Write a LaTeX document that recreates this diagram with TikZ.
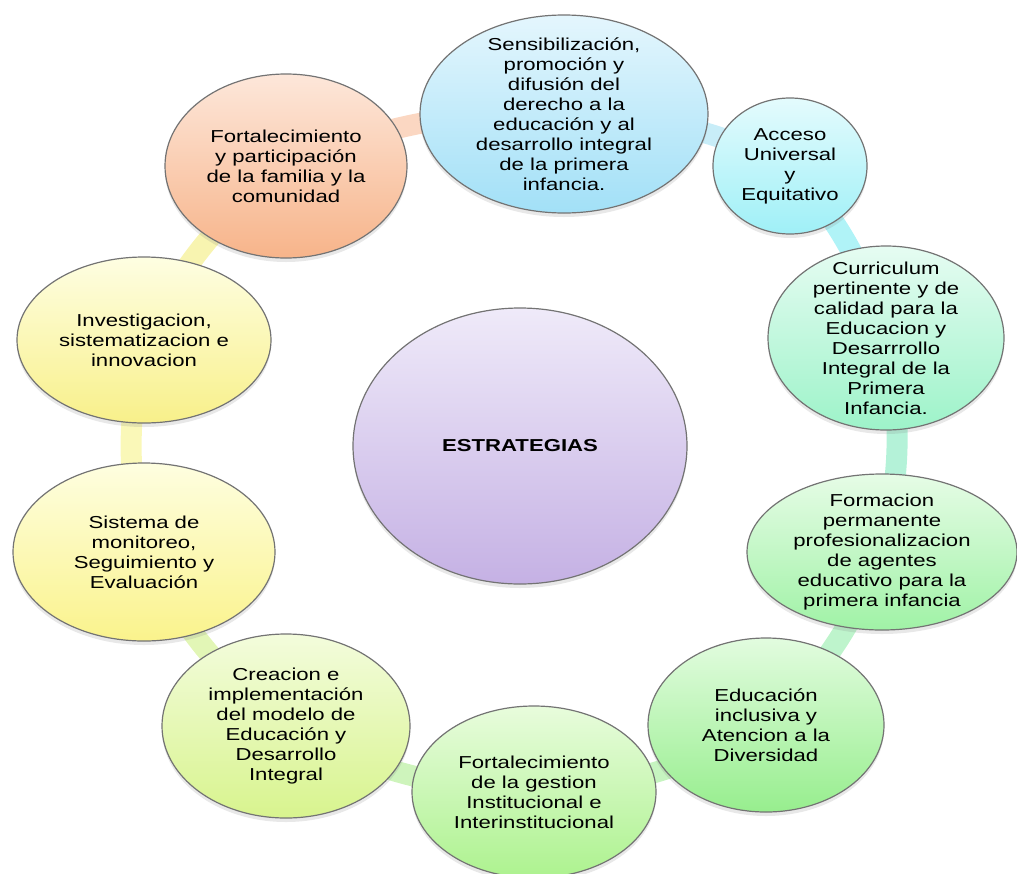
\documentclass[tikz,border=0pt]{standalone}
\usepackage{fontspec}
\setmainfont{Liberation Sans}[FakeStretch=1.28]
\usetikzlibrary{shapes.geometric,backgrounds,shadows}

% Colores de las burbujas (arriba / abajo)
\definecolor{famA}{HTML}{FDE7DA}
\definecolor{famB}{HTML}{F7B48A}
\definecolor{senA}{HTML}{E4F6FD}
\definecolor{senB}{HTML}{A2E0F7}
\definecolor{accA}{HTML}{E4FBFD}
\definecolor{accB}{HTML}{9FF0F7}
\definecolor{curA}{HTML}{E6FCF2}
\definecolor{curB}{HTML}{9DF3C9}
\definecolor{forA}{HTML}{E6FCE6}
\definecolor{forB}{HTML}{A0F2A6}
\definecolor{eduA}{HTML}{E2FCDF}
\definecolor{eduB}{HTML}{97EE8E}
\definecolor{gesA}{HTML}{E8FCDC}
\definecolor{gesB}{HTML}{ADF28F}
\definecolor{creA}{HTML}{F3FCDC}
\definecolor{creB}{HTML}{D8F48E}
\definecolor{sisA}{HTML}{FEFEE0}
\definecolor{sisB}{HTML}{FAF38C}
\definecolor{invA}{HTML}{FEFEE2}
\definecolor{invB}{HTML}{F8F08A}
\definecolor{cenA}{HTML}{EFEAF9}
\definecolor{cenB}{HTML}{C5B1E4}
% Colores de la banda
\definecolor{bFS}{HTML}{FBD7C2}
\definecolor{bSA}{HTML}{C8EDF8}
\definecolor{bAC}{HTML}{B0F3F7}
\definecolor{bCF}{HTML}{B4F2D8}
\definecolor{bFE}{HTML}{BEF4CC}
\definecolor{bEG}{HTML}{C6F4C0}
\definecolor{bGC}{HTML}{CEF4BC}
\definecolor{bCS}{HTML}{E2F6B6}
\definecolor{bSI}{HTML}{FAF8B8}
\definecolor{bIF}{HTML}{F8F4B0}

\tikzset{
  burbuja/.style={ellipse,draw=black!55,line width=0.6pt,inner sep=0pt,
    drop shadow={opacity=0.18,shadow xshift=0pt,shadow yshift=-2pt}},
  texto/.style={align=center,inner sep=0pt,font=\fontsize{8.65}{10}\selectfont},
  banda/.style={line width=10.5pt}
}

\begin{document}
\begin{tikzpicture}[x=0.5pt,y=-0.5pt]
  % Ventana
  \clip (0,0) rectangle (1017,873);

  % Burbujas
  \node[burbuja,top color=famA,bottom color=famB,minimum width=121pt,minimum height=92pt] (fam) at (286,166) {};
  \node[burbuja,top color=senA,bottom color=senB,minimum width=144pt,minimum height=99pt] (sens) at (564,114) {};
  \node[burbuja,top color=accA,bottom color=accB,minimum width=77pt,minimum height=68pt] (acceso) at (790,166) {};
  \node[burbuja,top color=curA,bottom color=curB,minimum width=118pt,minimum height=92pt] (curri) at (886,338) {};
  \node[burbuja,top color=forA,bottom color=forB,minimum width=135pt,minimum height=78pt] (formac) at (882,552) {};
  \node[burbuja,top color=eduA,bottom color=eduB,minimum width=118pt,minimum height=87pt] (educ) at (766,725) {};
  \node[burbuja,top color=gesA,bottom color=gesB,minimum width=122pt,minimum height=86pt] (gest) at (534,792) {};
  \node[burbuja,top color=creA,bottom color=creB,minimum width=124pt,minimum height=92pt] (creac) at (286,726) {};
  \node[burbuja,top color=sisA,bottom color=sisB,minimum width=131pt,minimum height=89pt] (sist) at (144,552) {};
  \node[burbuja,top color=invA,bottom color=invB,minimum width=127pt,minimum height=83pt] (inves) at (144,340) {};
  \node[burbuja,top color=cenA,bottom color=cenB,minimum width=167pt,minimum height=138pt] (centro) at (520,446) {};

  % Banda circular entre burbujas
  \begin{pgfonlayer}{background}
    \foreach \a/\b/\c in {fam/sens/bFS,sens/acceso/bSA,acceso/curri/bAC,curri/formac/bCF,
        formac/educ/bFE,educ/gest/bEG,gest/creac/bGC,creac/sist/bCS,sist/inves/bSI,inves/fam/bIF}{
      \draw[banda,\c] (\a.center) to[bend left=12] (\b.center);
    }
  \end{pgfonlayer}

  % Textos
  \node[texto] (t-fam) at (fam) {Fortalecimiento\\y participación\\de la familia y la\\comunidad};
  \node[texto] (t-sens) at (sens) {Sensibilización,\\promoción y\\difusión del\\derecho a la\\educación y al\\desarrollo integral\\de la primera\\infancia.};
  \node[texto] (t-acceso) at (acceso) {Acceso\\Universal\\y\\Equitativo};
  \node[texto] (t-curri) at (curri) {Curriculum\\pertinente y de\\calidad para la\\Educacion y\\Desarrrollo\\Integral de la\\Primera\\Infancia.};
  \node[texto] (t-formac) at (formac) {Formacion\\permanente\\profesionalizacion\\de agentes\\educativo para la\\primera infancia};
  \node[texto] (t-educ) at (educ) {Educación\\inclusiva y\\Atencion a la\\Diversidad};
  \node[texto] (t-gest) at (gest) {Fortalecimiento\\de la gestion\\Institucional e\\Interinstitucional};
  \node[texto] (t-creac) at (creac) {Creacion e\\implementación\\del modelo de\\Educación y\\Desarrollo\\Integral};
  \node[texto] (t-sist) at (sist) {Sistema de\\monitoreo,\\Seguimiento y\\Evaluación};
  \node[texto] (t-inves) at (inves) {Investigacion,\\sistematizacion e\\innovacion};
  \node[texto,font=\fontsize{8.65}{10}\selectfont\bfseries] (t-centro) at (centro) {ESTRATEGIAS};
\end{tikzpicture}
\end{document}
